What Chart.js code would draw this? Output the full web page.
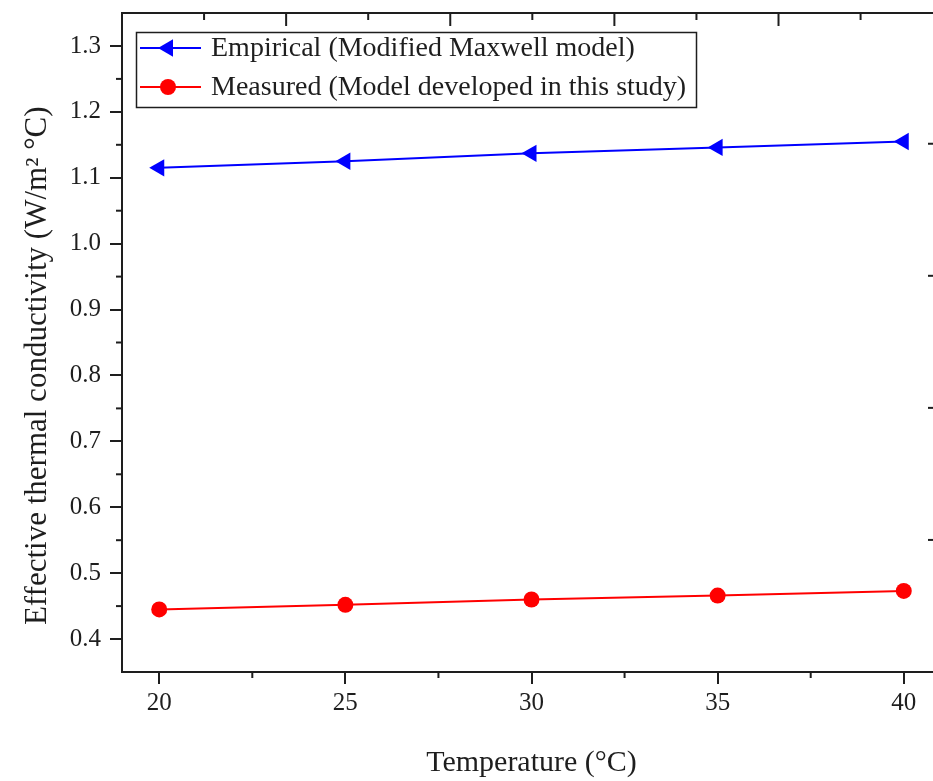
<!DOCTYPE html>
<html>
<head>
<meta charset="utf-8">
<script src="https://cdn.jsdelivr.net/npm/chart.js@4.4.1/dist/chart.umd.min.js"></script>
<style>
  html, body { margin: 0; padding: 0; background: #fff; overflow: hidden; }
  #grafico { display: block; }
</style>
</head>
<body>
<canvas id="grafico" width="951" height="781"></canvas>
<script>
// datos
const temperaturas = [20, 25, 30, 35, 40];
const empirico = [1.115, 1.125, 1.137, 1.146, 1.155];
const medido = [0.445, 0.452, 0.460, 0.466, 0.473];

const ticksX = [20, 25, 30, 35, 40];
const ticksY = [0.4, 0.5, 0.6, 0.7, 0.8, 0.9, 1.0, 1.1, 1.2, 1.3];
const menoresX = [22.5, 27.5, 32.5, 37.5];
const menoresY = [0.45, 0.55, 0.65, 0.75, 0.85, 0.95, 1.05, 1.15, 1.25];
// ejes de arriba y derecha (otra escala en la figura original)
const mayoresArriba = [1, 2, 3, 4];
const menoresArriba = [0.5, 1.5, 2.5, 3.5, 4.5];
const mayoresDerecha = [1, 2, 3, 4];
const menoresDerecha = [0.5, 1.5, 2.5, 3.5, 4.5];

const fuente = "'Liberation Serif', 'Times New Roman', serif";
const negro = "#1e1e1e";

const marco = {
  id: "marco",
  afterDraw(chart) {
    const { ctx, chartArea: a, scales } = chart;
    ctx.save();
    ctx.strokeStyle = negro;
    ctx.lineWidth = 2;
    const linea = (x1, y1, x2, y2) => {
      ctx.beginPath();
      ctx.moveTo(x1, y1);
      ctx.lineTo(x2, y2);
      ctx.stroke();
    };
    linea(a.left - 1, a.top, a.right, a.top);
    linea(a.right, a.top, a.right, a.bottom);
    menoresX.forEach(v => {
      const px = scales.x.getPixelForValue(v);
      linea(px, a.bottom, px, a.bottom + 6);
    });
    menoresY.forEach(v => {
      const py = scales.y.getPixelForValue(v);
      linea(a.left, py, a.left - 6, py);
    });
    mayoresArriba.forEach(v => {
      const px = scales.x2.getPixelForValue(v);
      linea(px, a.top, px, a.top + 13);
    });
    menoresArriba.forEach(v => {
      const px = scales.x2.getPixelForValue(v);
      linea(px, a.top, px, a.top + 7);
    });
    mayoresDerecha.forEach(v => {
      const py = scales.y2.getPixelForValue(v);
      linea(a.right, py, a.right - 13, py);
    });
    menoresDerecha.forEach(v => {
      const py = scales.y2.getPixelForValue(v);
      linea(a.right, py, a.right - 7, py);
    });

    // leyenda con recuadro
    const caja = { x: 136.5, y: 32.5, w: 560, h: 75 };
    ctx.lineWidth = 1.5;
    ctx.strokeRect(caja.x, caja.y, caja.w, caja.h);
    ctx.font = "28px " + fuente;
    ctx.textBaseline = "middle";
    ctx.fillStyle = negro;
    chart.data.datasets.forEach((ds, i) => {
      const y = 48 + i * 39;
      ctx.strokeStyle = ds.borderColor;
      ctx.lineWidth = 2;
      linea(140, y, 201, y);
      ctx.fillStyle = ds.borderColor;
      ctx.beginPath();
      if (ds.pointStyle === "triangle") {
        const r = ds.pointRadius;
        ctx.moveTo(168 - r, y);
        ctx.lineTo(168 + r / 2, y - r * 0.866);
        ctx.lineTo(168 + r / 2, y + r * 0.866);
        ctx.closePath();
      } else {
        ctx.arc(168, y, ds.pointRadius, 0, Math.PI * 2);
      }
      ctx.fill();
      ctx.fillStyle = negro;
      ctx.fillText(ds.label, 211, y + 1);
    });
    ctx.restore();
  }
};

const ejeOculto = {
  type: "linear",
  min: 0,
  max: 4.99,
  border: { display: false },
  grid: { display: false, drawTicks: false },
  ticks: { display: false }
};

const ctx = document.getElementById("grafico").getContext("2d");
const grafico = new Chart(ctx, {
  type: "line",
  data: {
    datasets: [
      {
        label: "Empirical (Modified Maxwell model)",
        data: temperaturas.map((t, i) => ({ x: t, y: empirico[i] })),
        borderColor: "#0000ff",
        backgroundColor: "#0000ff",
        borderWidth: 2,
        pointStyle: "triangle",
        pointRotation: 270,
        pointRadius: 10,
        pointBorderWidth: 0
      },
      {
        label: "Measured (Model developed in this study)",
        data: temperaturas.map((t, i) => ({ x: t, y: medido[i] })),
        borderColor: "#ff0000",
        backgroundColor: "#ff0000",
        borderWidth: 2,
        pointStyle: "circle",
        pointRadius: 8,
        pointBorderWidth: 0
      }
    ]
  },
  options: {
    responsive: false,
    animation: false,
    layout: { padding: { top: 13, right: 4.6, left: 0, bottom: 0 } },
    plugins: { legend: { display: false }, tooltip: { enabled: false } },
    elements: { line: { tension: 0 } },
    scales: {
      x: {
        type: "linear",
        min: 19,
        max: 41,
        afterBuildTicks: s => { s.ticks = ticksX.map(v => ({ value: v })); },
        afterFit: s => { s.height = 109; s.paddingLeft = 0; s.paddingRight = 0; },
        border: { color: negro, width: 2 },
        grid: { drawOnChartArea: false, tickLength: 12, color: negro, lineWidth: 2 },
        ticks: { color: negro, padding: 4, font: { family: fuente, size: 25 } },
        title: {
          display: true,
          text: "Temperature (\u00B0C)",
          color: negro,
          padding: { top: 4, bottom: 0 },
          font: { family: fuente, size: 30, lineHeight: 1.2 }
        }
      },
      y: {
        min: 0.35,
        max: 1.35,
        afterBuildTicks: s => { s.ticks = ticksY.map(v => ({ value: v })); },
        afterFit: s => { s.width = 122; s.paddingTop = 0; s.paddingBottom = 0; },
        border: { color: negro, width: 2 },
        grid: { drawOnChartArea: false, tickLength: 12, color: negro, lineWidth: 2 },
        ticks: {
          color: negro,
          padding: 9,
          font: { family: fuente, size: 25 },
          callback: v => v.toFixed(1)
        },
        title: {
          display: true,
          text: "Effective thermal conductivity (W/m\u00B2 \u00B0C)\u00A0\u00A0\u00A0\u00A0\u00A0\u00A0",
          color: negro,
          padding: { top: 19, bottom: 0 },
          font: { family: fuente, size: 31, lineHeight: 1.2 }
        }
      },
      x2: Object.assign({ position: "top" }, ejeOculto),
      y2: Object.assign({ position: "right" }, ejeOculto)
    }
  },
  plugins: [marco]
});
</script>
</body>
</html>
